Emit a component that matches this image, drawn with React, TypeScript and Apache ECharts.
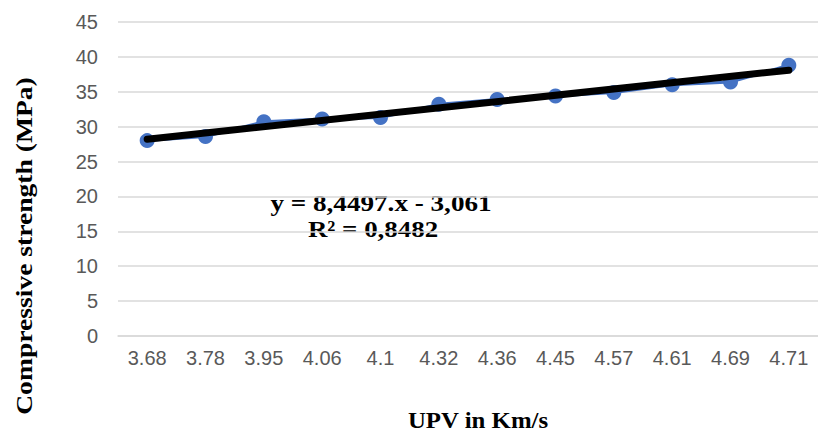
import React, { useEffect, useRef } from "react";
import * as echarts from "echarts";

// Ultrasonic pulse velocity (km/s) for each specimen
const upvLabels = ["3.68", "3.78", "3.95", "4.06", "4.1", "4.32", "4.36", "4.45", "4.57", "4.61", "4.69", "4.71"];
// Measured compressive strength (MPa)
const strengthValues = [28.0, 28.6, 30.7, 31.1, 31.3, 33.2, 33.9, 34.4, 34.9, 36.0, 36.4, 38.8];
// Linear trend line: values at the first and last specimen
const trendStart = 28.2;
const trendEnd = 38.1;
// Y axis ticks
const yMin = 0;
const yMax = 45;
const yStep = 5;
// Trend line annotation
const equationText = "y = 8,4497.x - 3,061";
const r2Text = "R² = 0,8482";

const SANS = "'Liberation Sans', Arial, sans-serif";
const SERIF = "'Liberation Serif', 'Times New Roman', serif";

export default function App() {
  const ref = useRef<HTMLDivElement>(null);

  useEffect(() => {
    if (!ref.current) return;
    const chart = echarts.init(ref.current, null, { renderer: "svg" });
    chart.setOption({
      animation: false,
      backgroundColor: "#ffffff",
      grid: { left: 118, right: -4, top: 22, bottom: 95, containLabel: false },
      xAxis: {
        type: "category",
        data: upvLabels,
        boundaryGap: true,
        axisLine: { show: true, lineStyle: { color: "#d9d9d9", width: 1.5 } },
        axisTick: { show: false },
        axisLabel: { color: "#595959", fontFamily: SANS, fontSize: 20, margin: 12 },
        splitLine: { show: false },
      },
      yAxis: {
        type: "value",
        min: yMin,
        max: yMax,
        interval: yStep,
        axisLine: { show: false },
        axisTick: { show: false },
        axisLabel: { color: "#595959", fontFamily: SANS, fontSize: 20, margin: 20 },
        splitLine: { show: true, lineStyle: { color: "#d9d9d9", width: 1.5 } },
      },
      series: [
        {
          name: "Compressive strength",
          type: "line",
          data: strengthValues,
          symbol: "circle",
          symbolSize: 15,
          itemStyle: { color: "#4472c4" },
          lineStyle: { color: "#4472c4", width: 3 },
          z: 2,
        },
        {
          name: "Linear trend",
          type: "line",
          data: [
            [upvLabels[0], trendStart],
            [upvLabels[upvLabels.length - 1], trendEnd],
          ],
          symbol: "none",
          lineStyle: { color: "#000000", width: 7, cap: "round" },
          z: 3,
        },
      ],
      graphic: [
        {
          type: "text",
          x: 24,
          y: 246,
          rotation: Math.PI / 2,
          scaleX: 1.2,
          style: {
            text: "Compressive strength (MPa)",
            font: `bold 23px ${SERIF}`,
            fill: "#000000",
            align: "center",
            verticalAlign: "middle",
          },
        },
        {
          type: "text",
          x: 478,
          y: 420,
          scaleX: 1.08,
          style: {
            text: "UPV in Km/s",
            font: `bold 23px ${SERIF}`,
            lineHeight: 20,
            fill: "#000000",
            align: "center",
            verticalAlign: "middle",
          },
        },
        {
          type: "text",
          x: 381,
          y: 203,
          scaleX: 1.18,
          style: {
            text: equationText,
            font: `bold 23px ${SERIF}`,
            fill: "#000000",
            align: "center",
            verticalAlign: "middle",
          },
        },
        {
          type: "text",
          x: 373,
          y: 229,
          scaleX: 1.17,
          style: {
            text: r2Text,
            font: `bold 23px ${SERIF}`,
            fill: "#000000",
            align: "center",
            verticalAlign: "middle",
          },
        },
      ],
    });
    return () => chart.dispose();
  }, []);

  return (
    <div
      ref={ref}
      style={{ position: "fixed", left: 0, top: 0, width: 818, height: 431, background: "#fff" }}
    />
  );
}
